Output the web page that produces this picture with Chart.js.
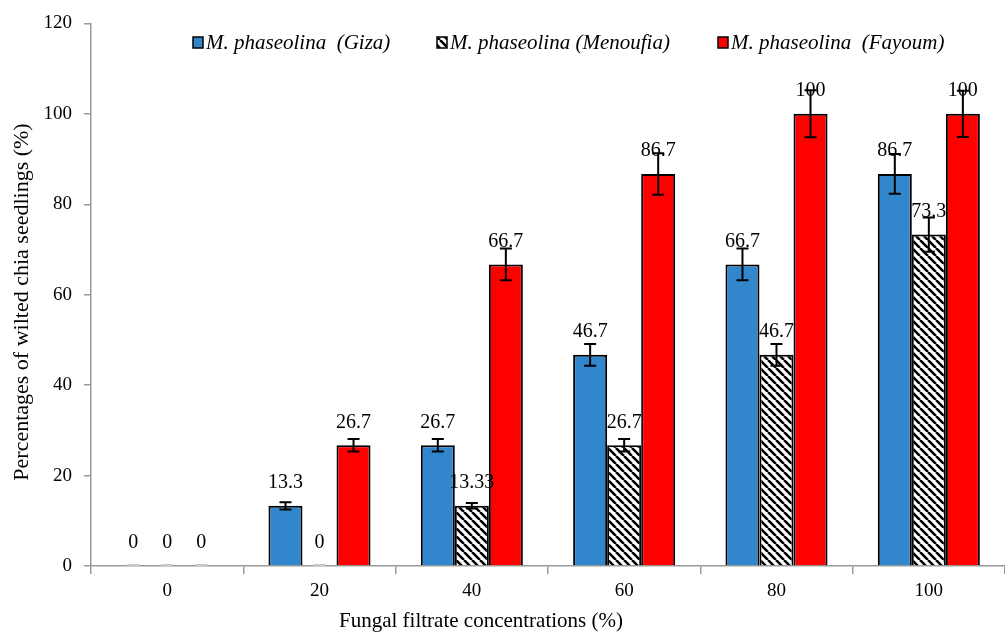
<!DOCTYPE html>
<html>
<head>
<meta charset="utf-8">
<script src="https://cdn.jsdelivr.net/npm/chart.js@4.4.1/dist/chart.umd.min.js"></script>
<style>
  html, body { margin: 0; padding: 0; background: #fff; }
  #wrap { width: 1005px; height: 639px; }
</style>
</head>
<body>
<div id="wrap"><canvas id="grafik"></canvas></div>
<script>
// data
const concentrations = ["0", "20", "40", "60", "80", "100"];
const seriesNames = ["M. phaseolina  (Giza)", "M. phaseolina (Menoufia)", "M. phaseolina  (Fayoum)"];
const giza = [0, 13.3, 26.7, 46.7, 66.7, 86.7];
const menoufia = [0, 0, 13.33, 26.7, 46.7, 73.3];
const fayoum = [0, 26.7, 66.7, 86.7, 100, 100];
const gizaErr = [0, 0.8, 1.4, 2.4, 3.5, 4.4];
const menoufiaErr = [0, 0, 0.6, 1.4, 2.4, 3.8];
const fayoumErr = [0, 1.4, 3.5, 4.6, 5.2, 5.1];
const yTicks = [0, 20, 40, 60, 80, 100, 120];
const xTitle = "Fungal filtrate concentrations (%)";
const yTitle = "Percentages of wilted chia seedlings (%)";

// pola arsir untuk Menoufia
function buatArsir() {
    const c = document.createElement("canvas");
    c.width = 8; c.height = 8;
    const g = c.getContext("2d");
    g.fillStyle = "#fff";
    g.fillRect(0, 0, 8, 8);
    g.strokeStyle = "#000";
    g.lineWidth = 2.6;
    g.beginPath();
    for (let k = -8; k <= 16; k += 8) {
        g.moveTo(k, 0);
        g.lineTo(k + 8, 8);
    }
    g.stroke();
    return g.createPattern(c, "repeat");
}
const arsir = buatArsir();
const warna = ["#3287cc", arsir, "#ff0000"];
const errors = [gizaErr, menoufiaErr, fayoumErr];

// error bars + label nilai
const errorPlugin = {
    id: "errorBars",
    afterDatasetsDraw(chart) {
        const ctx = chart.ctx;
        const y = chart.scales.y;
        ctx.save();
        chart.data.datasets.forEach((ds, i) => {
            const meta = chart.getDatasetMeta(i);
            meta.data.forEach((bar, j) => {
                const v = ds.data[j];
                const e = errors[i][j];
                if (v === 0) {
                    ctx.strokeStyle = "#c8c8c8";
                    ctx.lineWidth = 2;
                    ctx.beginPath();
                    ctx.moveTo(bar.x - 6, y.getPixelForValue(0) - 1);
                    ctx.lineTo(bar.x + 6, y.getPixelForValue(0) - 1);
                    ctx.stroke();
                } else if (e > 0) {
                    const top = y.getPixelForValue(v + e);
                    const bot = y.getPixelForValue(v - e);
                    ctx.strokeStyle = "#000";
                    ctx.lineWidth = 2;
                    ctx.beginPath();
                    ctx.moveTo(bar.x, top); ctx.lineTo(bar.x, bot);
                    ctx.moveTo(bar.x - 6, top); ctx.lineTo(bar.x + 6, top);
                    ctx.moveTo(bar.x - 6, bot); ctx.lineTo(bar.x + 6, bot);
                    ctx.stroke();
                }
            });
        });
        ctx.fillStyle = "#000";
        ctx.font = "20px 'Liberation Serif'";
        ctx.textAlign = "center";
        ctx.textBaseline = "middle";
        chart.data.datasets.forEach((ds, i) => {
            const meta = chart.getDatasetMeta(i);
            meta.data.forEach((bar, j) => {
                ctx.fillText(String(ds.data[j]), bar.x, bar.y - 23);
            });
        });
        ctx.restore();
    }
};

// legenda di dalam area plot + judul sumbu
const legendPlugin = {
    id: "legendaManual",
    afterDraw(chart) {
        const ctx = chart.ctx;
        const xs = [193, 437, 718];
        ctx.save();
        ctx.font = "italic 21px 'Liberation Serif'";
        ctx.textBaseline = "middle";
        ctx.textAlign = "left";
        seriesNames.forEach((nama, i) => {
            ctx.fillStyle = warna[i];
            ctx.fillRect(xs[i], 37, 10, 11);
            ctx.strokeStyle = "#000";
            ctx.lineWidth = 1.5;
            ctx.strokeRect(xs[i], 37, 10, 11);
            ctx.fillStyle = "#000";
            ctx.fillText(nama, xs[i] + 13, 43);
        });
        ctx.font = "21px 'Liberation Serif'";
        ctx.textAlign = "center";
        ctx.fillText(xTitle, 481, 621);
        ctx.translate(22, 302);
        ctx.rotate(-Math.PI / 2);
        ctx.font = "22px 'Liberation Serif'";
        ctx.fillText(yTitle, 0, 0);
        ctx.restore();
    }
};

new Chart(document.getElementById("grafik"), {
    type: "bar",
    data: {
        labels: concentrations,
        datasets: [giza, menoufia, fayoum].map((d, i) => ({
            label: seriesNames[i],
            data: d,
            backgroundColor: warna[i],
            borderColor: "#000",
            borderWidth: 2,
            borderSkipped: "bottom",
            barPercentage: 1,
            categoryPercentage: 0.67
        }))
    },
    options: {
        responsive: true,
        maintainAspectRatio: false,
        animation: false,
        layout: { padding: { top: 23, right: 0, left: 0, bottom: 0 } },
        plugins: { legend: { display: false }, tooltip: { enabled: false } },
        scales: {
            x: {
                offset: true,
                grid: { display: true, offset: true, drawOnChartArea: false, color: "#999", tickLength: 8, lineWidth: 1.5 },
                border: { color: "#999", width: 1.5 },
                ticks: { color: "#000", font: { family: "'Liberation Serif'", size: 19 }, padding: 6 },
                afterFit: (s) => { s.height = 73; }
            },
            y: {
                min: 0, max: 120,
                afterBuildTicks: (s) => { s.ticks = yTicks.map(v => ({ value: v })); },
                grid: { display: true, drawOnChartArea: false, color: "#999", tickLength: 7, lineWidth: 1.5 },
                border: { color: "#999", width: 1.5 },
                ticks: { color: "#000", font: { family: "'Liberation Serif'", size: 19 }, padding: 12 },
                afterFit: (s) => { s.width = 91; }
            }
        }
    },
    plugins: [errorPlugin, legendPlugin]
});
</script>
</body>
</html>
